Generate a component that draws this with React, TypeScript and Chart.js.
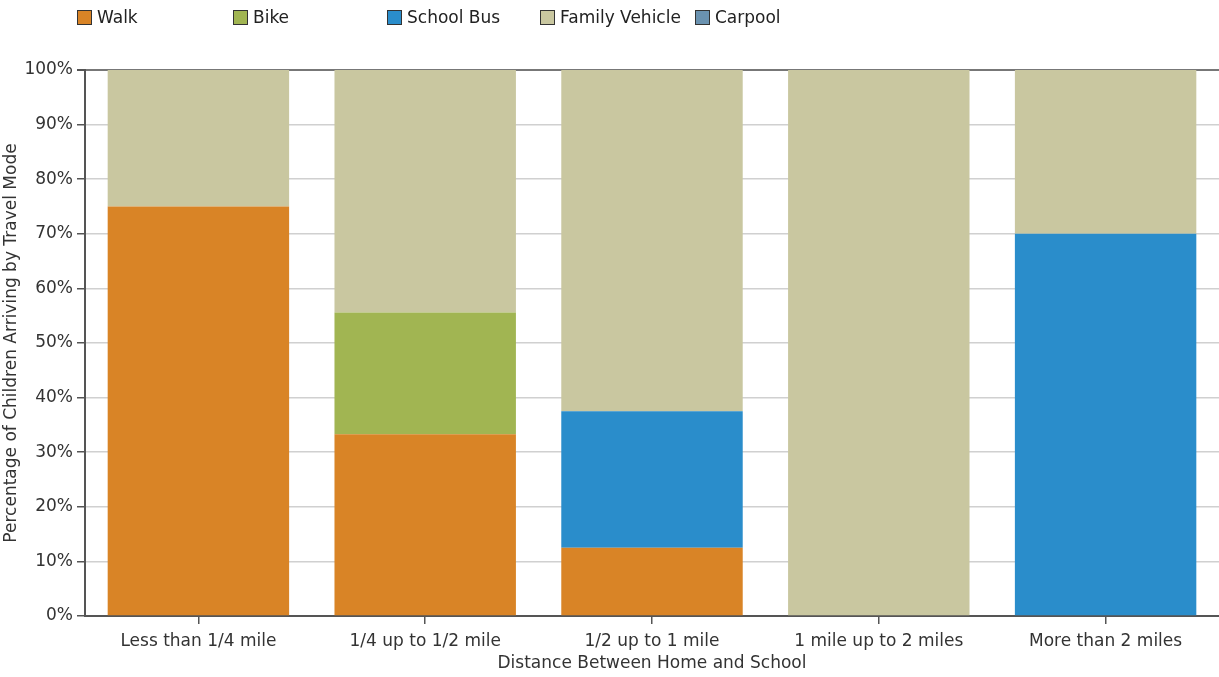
import React, { useEffect, useRef } from "react";
import { Chart, registerables } from "chart.js";

Chart.register(...registerables);

const categories = [
  "Less than 1/4 mile",
  "1/4 up to 1/2 mile",
  "1/2 up to 1 mile",
  "1 mile up to 2 miles",
  "More than 2 miles",
];
const walk = [75, 33.3, 12.5, 0, 0];
const bike = [0, 22.3, 0, 0, 0];
const schoolBus = [0, 0, 25, 0, 70];
const familyVehicle = [25, 44.4, 62.5, 100, 30];
const carpool = [0, 0, 0, 0, 0];

const seriesNames = ["Walk", "Bike", "School Bus", "Family Vehicle", "Carpool"];
const seriesColors = ["#D98426", "#A1B552", "#2A8DCB", "#C9C7A0", "#6A92B0"];
const legendX = [77, 233, 387, 540, 695];

const FONT = "'DejaVu Sans', Verdana, sans-serif";
const FS = 17;

export default function App() {
  const ref = useRef<HTMLCanvasElement>(null);
  useEffect(() => {
    document.body.style.margin = "0";
    const values = [walk, bike, schoolBus, familyVehicle, carpool];
    const chart = new Chart(ref.current!, {
      type: "bar",
      data: {
        labels: categories,
        datasets: seriesNames.map((n, i) => ({
          label: n,
          data: values[i],
          backgroundColor: seriesColors[i],
          borderWidth: 0,
          categoryPercentage: 0.8,
          barPercentage: 1,
        })),
      },
      options: {
        animation: false,
        responsive: false,
        maintainAspectRatio: false,
        layout: { padding: { top: 70, right: 0, left: 0, bottom: 0 } },
        plugins: { legend: { display: false }, tooltip: { enabled: false } },
        scales: {
          x: {
            stacked: true,
            afterFit: (s: any) => {
              s.height = 61;
            },
            grid: {
              offset: false,
              drawOnChartArea: false,
              drawTicks: true,
              tickLength: 8,
              tickColor: "#555",
              lineWidth: 1.5,
            },
            border: { color: "#555", width: 2 },
            ticks: { color: "#333", font: { family: FONT, size: FS }, padding: 7 },
            title: {
              display: true,
              text: "Distance Between Home and School",
              color: "#333",
              font: { family: FONT, size: FS },
              padding: { top: 0, bottom: 3 },
            },
          },
          y: {
            stacked: true,
            min: 0,
            max: 100,
            afterFit: (s: any) => {
              s.width = 85;
            },
            grid: {
              color: (c: any) => (c.tick && c.tick.value === 100 ? "#777" : "#d0d0d0"),
              tickColor: "#555",
              tickLength: 8,
              lineWidth: (c: any) => (c.tick && c.tick.value === 100 ? 2 : 1.5),
            },
            border: { color: "#555", width: 2 },
            ticks: {
              stepSize: 10,
              color: "#333",
              font: { family: FONT, size: FS },
              padding: 4,
              callback: (v: any) => v + "%",
            },
            title: {
              display: true,
              text: "Percentage of Children Arriving by Travel Mode",
              color: "#333",
              font: { family: FONT, size: FS },
              padding: { top: 1, bottom: 0 },
            },
          },
        },
      },
    });
    return () => chart.destroy();
  }, []);
  return (
    <div style={{ position: "absolute", left: 0, top: 0, width: 1219, height: 677 }}>
      <canvas ref={ref} width={1219} height={677} style={{ width: 1219, height: 677 }} />
      {seriesNames.map((n, i) => (
        <div
          key={n}
          style={{
            position: "absolute",
            left: legendX[i],
            top: 6,
            display: "flex",
            alignItems: "center",
            fontFamily: FONT,
            fontSize: FS,
            color: "#222",
            lineHeight: "22px",
          }}
        >
          <span
            style={{
              display: "inline-block",
              width: 15,
              height: 15,
              boxSizing: "border-box",
              background: seriesColors[i],
              border: "1.5px solid #333",
              marginRight: 5,
            }}
          />
          {n}
        </div>
      ))}
    </div>
  );
}
